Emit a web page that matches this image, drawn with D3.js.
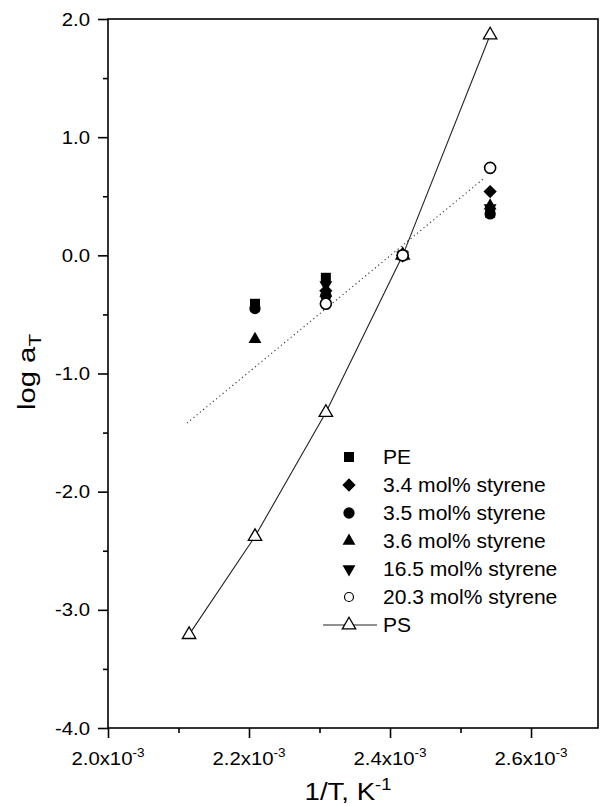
<!DOCTYPE html>
<html>
<head>
<meta charset="utf-8">
<script src="https://cdn.jsdelivr.net/npm/d3@7"></script>
<style>
html,body{margin:0;padding:0;background:#fff;}
svg{display:block;font-family:"Liberation Sans",Arial,sans-serif;}
</style>
</head>
<body>
<svg id="chart" width="600" height="806"></svg>
<script>
// ---- data ----
const seriesNames = ["PE", "3.4 mol% styrene", "3.5 mol% styrene", "3.6 mol% styrene", "16.5 mol% styrene", "20.3 mol% styrene", "PS"];
const xPE   = [2.2085e-3, 2.309e-3, 2.418e-3, 2.542e-3];
const yPE   = [-0.41, -0.19, 0.0, 0.36];
const x34   = [2.309e-3, 2.418e-3, 2.542e-3];
const y34   = [-0.30, 0.0, 0.54];
const x35   = [2.2085e-3, 2.309e-3, 2.418e-3, 2.542e-3];
const y35   = [-0.45, -0.34, 0.0, 0.35];
const x36   = [2.2085e-3, 2.309e-3, 2.418e-3, 2.542e-3];
const y36   = [-0.71, -0.32, 0.0, 0.42];
const x165  = [2.309e-3, 2.418e-3, 2.542e-3];
const y165  = [-0.25, 0.0, 0.40];
const x203  = [2.309e-3, 2.418e-3, 2.542e-3];
const y203  = [-0.41, 0.0, 0.74];
const xPS   = [2.115e-3, 2.2085e-3, 2.309e-3, 2.418e-3, 2.542e-3];
const yPS   = [-3.21, -2.38, -1.33, 0.0, 1.865];
const xFit  = [2.112e-3, 2.535e-3];
const yFit  = [-1.42, 0.66];
const xMajor = [2.0e-3, 2.2e-3, 2.4e-3, 2.6e-3];
const xMajorLabels = ["2.0", "2.2", "2.4", "2.6"];
const xMinor = [2.1e-3, 2.3e-3, 2.5e-3];
const yMajor = [-4, -3, -2, -1, 0, 1, 2];
const yMajorLabels = ["-4.0", "-3.0", "-2.0", "-1.0", "0.0", "1.0", "2.0"];
const yMinor = [-3.5, -2.5, -1.5, -0.5, 0.5, 1.5];

// ---- layout ----
const svg = d3.select("#chart");
const L = 108, R = 598, T = 19, B = 728;
const x = d3.scaleLinear().domain([2.0e-3, 2.695e-3]).range([L, R]);
const y = d3.scaleLinear().domain([-4, 2]).range([B, T]);

// frame
svg.append("rect").attr("x", L).attr("y", T).attr("width", R - L).attr("height", B - T)
  .attr("fill", "none").attr("stroke", "#000").attr("stroke-width", 1.6);

// axes ticks
function styleAxis(g){ g.select(".domain").remove(); g.selectAll("line").attr("stroke","#000").attr("stroke-width",1.6); g.selectAll("text").remove(); }
svg.append("g").attr("transform", `translate(0,${B})`)
  .call(d3.axisBottom(x).tickValues(xMajor).tickSize(10).tickFormat("")).call(styleAxis);
svg.append("g").attr("transform", `translate(0,${B})`)
  .call(d3.axisBottom(x).tickValues(xMinor).tickSize(5).tickFormat("")).call(styleAxis);
svg.append("g").attr("transform", `translate(${L},0)`)
  .call(d3.axisLeft(y).tickValues(yMajor).tickSize(10).tickFormat("")).call(styleAxis);
svg.append("g").attr("transform", `translate(${L},0)`)
  .call(d3.axisLeft(y).tickValues(yMinor).tickSize(5).tickFormat("")).call(styleAxis);

// scaled text helper
function label(px, py, rot, sx, size, anchor){
  const g = svg.append("g").attr("transform", `translate(${px},${py}) rotate(${rot}) scale(${sx},1)`);
  return g.append("text").attr("x", 0).attr("y", 0).attr("text-anchor", anchor)
    .attr("font-size", size).attr("fill", "#000");
}

// y tick labels
yMajor.forEach((v, i) => {
  label(L - 18, y(v) + 6.5, 0, 1.13, 18, "end").text(yMajorLabels[i]);
});
// x tick labels
xMajor.forEach((v, i) => {
  const t = label(x(v), 765, 0, 1.13, 18, "middle");
  t.append("tspan").text(xMajorLabels[i] + "x10");
  t.append("tspan").attr("font-size", 12).attr("dy", -8).text("-3");
});

// axis titles
const xt = label(348, 800, 0, 1.15, 24, "middle");
xt.append("tspan").text("1/T, K");
xt.append("tspan").attr("font-size", 16).attr("dy", -10).text("-1");
const yt = label(35, 372, -90, 1.22, 24, "middle");
yt.append("tspan").text("log a");
yt.append("tspan").attr("font-size", 17).attr("dy", 6).text("T");

// ---- marks ----
const plot = svg.append("g");
// fit line (dotted)
plot.append("path")
  .attr("d", d3.line().x(d => x(d[0])).y(d => y(d[1]))(xFit.map((v, i) => [v, yFit[i]])))
  .attr("fill", "none").attr("stroke", "#333").attr("stroke-width", 1.1).attr("stroke-dasharray", "1.2,3");
// PS line
plot.append("path")
  .attr("d", d3.line().x(d => x(d[0])).y(d => y(d[1]))(xPS.map((v, i) => [v, yPS[i]])))
  .attr("fill", "none").attr("stroke", "#222").attr("stroke-width", 1.1);

const shapes = {
  square:   {type: d3.symbolSquare, size: 100, rot: 0, fill: "#000"},
  diamond:  {type: d3.symbolSquare, size: 88, rot: 45, fill: "#000"},
  circle:   {type: d3.symbolCircle, size: 100, rot: 0, fill: "#000"},
  triUp:    {type: d3.symbolTriangle, size: 72, rot: 0, fill: "#000"},
  triDown:  {type: d3.symbolTriangle, size: 72, rot: 180, fill: "#000"},
  ocircle:  {type: d3.symbolCircle, size: 95, rot: 0, fill: "#fff", stroke: "#000", sw: 1.6},
  otri:     {type: d3.symbolTriangle, size: 78, rot: 0, fill: "#fff", stroke: "#000", sw: 1.3}
};
function drawMarker(g, shape, cx, cy){
  const s = shapes[shape];
  g.append("path").attr("d", d3.symbol().type(s.type).size(s.size)())
    .attr("transform", `translate(${cx},${cy}) rotate(${s.rot})`)
    .attr("fill", s.fill).attr("stroke", s.stroke || "none").attr("stroke-width", s.sw || 0);
}
const series = [
  {xs: xPS, ys: yPS, shape: "otri"},
  {xs: xPE, ys: yPE, shape: "square"},
  {xs: x34, ys: y34, shape: "diamond"},
  {xs: x35, ys: y35, shape: "circle"},
  {xs: x36, ys: y36, shape: "triUp"},
  {xs: x165, ys: y165, shape: "triDown"},
  {xs: x203, ys: y203, shape: "ocircle"}
];
series.forEach(s => s.xs.forEach((v, i) => drawMarker(plot, s.shape, x(v), y(s.ys[i]))));

// ---- legend ----
const legShapes = ["square", "diamond", "circle", "triUp", "triDown", "ocircle", "otri"];
const lg = svg.append("g");
seriesNames.forEach((name, i) => {
  const ry = 457 + i * 28;
  if (legShapes[i] === "otri") {
    lg.append("line").attr("x1", 323).attr("x2", 377).attr("y1", ry).attr("y2", ry)
      .attr("stroke", "#222").attr("stroke-width", 1.1);
  }
  const sc = legShapes[i] === "ocircle" ? "ocircleS" : legShapes[i];
  if (sc === "ocircleS") {
    lg.append("circle").attr("cx", 349).attr("cy", ry).attr("r", 4.5)
      .attr("fill", "#fff").attr("stroke", "#000").attr("stroke-width", 1.2);
  } else {
    drawMarker(lg, legShapes[i], 349, ry);
  }
  const gx = svg.append("g").attr("transform", `translate(383,${ry + 7}) scale(1.08,1)`);
  gx.append("text").attr("font-size", 19.5).attr("fill", "#000").text(name);
});
</script>
</body>
</html>
